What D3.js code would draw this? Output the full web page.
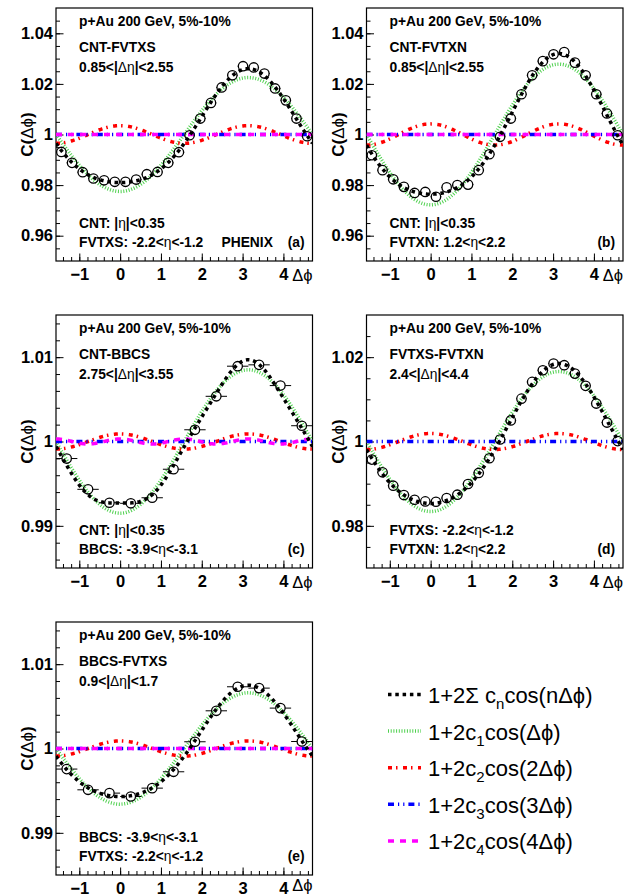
<!DOCTYPE html>
<html><head><meta charset="utf-8">
<script src="https://cdn.jsdelivr.net/npm/d3@7"></script>
<style>body{margin:0;background:#fff} svg{display:block}</style>
</head><body><svg id="chart" width="631" height="896"></svg>
<script>
// ---------------- data ----------------
const phiCenters24 = [-1.4399,-1.1781,-0.9163,-0.6545,-0.3927,-0.1309,0.1309,0.3927,0.6545,0.9163,1.1781,1.4399,
                      1.7017,1.9635,2.2253,2.4871,2.7489,3.0107,3.2725,3.5343,3.7961,4.0579,4.3197,4.5815];
const phiCenters12 = [-1.3090,-0.7854,-0.2618,0.2618,0.7854,1.3090,1.8326,2.3562,2.8798,3.4034,3.9270,4.4506];
const binWidth24 = 0.2618, binWidth12 = 0.5236;

const valuesA = [0.9931,0.9888,0.9851,0.9826,0.9819,0.9813,0.9813,0.9822,0.9843,0.9852,0.9888,0.9930,
                 0.9997,1.0063,1.0125,1.0186,1.0234,1.0270,1.0265,1.0241,1.0182,1.0135,1.0063,0.9993];
const valuesB = [0.9918,0.9859,0.9823,0.9793,0.9769,0.9773,0.9754,0.9791,0.9800,0.9802,0.9859,0.9922,
                 0.9991,1.0063,1.0159,1.0234,1.0290,1.0317,1.0326,1.0284,1.0234,1.0159,1.0083,0.9997];
const valuesC = [0.99798,0.99433,0.99274,0.99267,0.99333,0.99671,1.00139,1.00536,1.00893,1.00909,1.00663,1.00187];
const valuesD = [0.99571,0.99270,0.98952,0.98730,0.98619,0.98579,0.98571,0.98659,0.98738,0.98992,0.99254,0.99603,
                 1.00048,1.00500,1.01016,1.01413,1.01690,1.01850,1.01810,1.01610,1.01320,1.00900,1.00450,1.00010];
const valuesE = [0.99756,0.99510,0.99471,0.99431,0.99530,0.99724,1.00080,1.00447,1.00732,1.00716,1.00479,1.00083];

// Fourier coefficients c_n per panel (a..e)
const coefC1 = [-0.01125,-0.0139,-0.00425,-0.0083,-0.0033];
const coefC2 = [0.00175,0.0021,0.00045,0.00095,0.00045];
const coefC3 = [0,0,0,0,0];
const coefC4 = [0,0,0.00015,null,0];

const panelLetters = ["(a)","(b)","(c)","(d)","(e)"];
const headerText = "p+Au 200 GeV, 5%-10%";
const pairNames = ["CNT-FVTXS","CNT-FVTXN","CNT-BBCS","FVTXS-FVTXN","BBCS-FVTXS"];
const etaGaps = ["0.85<|Δη|<2.55","0.85<|Δη|<2.55","2.75<|Δη|<3.55","2.4<|Δη|<4.4","0.9<|Δη|<1.7"];
const detLine1 = ["CNT: |η|<0.35","CNT: |η|<0.35","CNT: |η|<0.35","FVTXS: -2.2<η<-1.2","BBCS: -3.9<η<-3.1"];
const detLine2 = ["FVTXS: -2.2<η<-1.2","FVTXN: 1.2<η<2.2","BBCS: -3.9<η<-3.1","FVTXN: 1.2<η<2.2","FVTXS: -2.2<η<-1.2"];

const yDomains = [[0.95,1.05],[0.95,1.05],[0.985,1.015],[0.97,1.03],[0.985,1.015]];
const yMajorTicks = [[0.96,0.98,1,1.02,1.04],[0.96,0.98,1,1.02,1.04],[0.99,1,1.01],[0.98,1,1.02],[0.99,1,1.01]];
const yMajorLabels = [["0.96","0.98","1","1.02","1.04"],["0.96","0.98","1","1.02","1.04"],
                      ["0.99","1","1.01"],["0.98","1","1.02"],["0.99","1","1.01"]];
const yMinorStep = [0.005,0.005,0.002,0.005,0.002];
const xTickValues = [-1,0,1,2,3,4];
const xTickLabels = ["\u22121","0","1","2","3","4"];
const yTitle = "C(Δϕ)", xTitle = "Δϕ";

const legendNames = [
  [["1+2Σ c",""],["n","sub"],["cos(nΔϕ)",""]],
  [["1+2c",""],["1","sub"],["cos(Δϕ)",""]],
  [["1+2c",""],["2","sub"],["cos(2Δϕ)",""]],
  [["1+2c",""],["3","sub"],["cos(3Δϕ)",""]],
  [["1+2c",""],["4","sub"],["cos(4Δϕ)",""]]
];

// ---------------- layout / style ----------------
const FONT = "'Liberation Sans', Arial, Helvetica, sans-serif";
const colX = [56, 366.5], rowY = [8, 315, 622], FW = 256.5, FH = 253;
const panelCol = [0,1,0,1,0], panelRow = [0,0,1,1,2];
const allValues = [valuesA,valuesB,valuesC,valuesD,valuesE];
const allPhi = [phiCenters24,phiCenters24,phiCenters12,phiCenters24,phiCenters12];
const allBW = [binWidth24,binWidth24,binWidth12,binWidth24,binWidth12];
const R = 4.7;

const styles = [
  {color:"#000000", width:3.5, dash:"3.5 3.8"},
  {color:"#4fd04f", width:3.5, dash:"1 1.7"},
  {color:"#ff0000", width:3.5, dash:"4 4 1.5 5.5"},
  {color:"#0000ff", width:3.5, dash:"6 4 1.2 4 1.2 4"},
  {color:"#ff00ff", width:3.5, dash:"6 6"}
];

const svg = d3.select("#chart");
svg.append("rect").attr("width",631).attr("height",896).attr("fill","#fff");

const GREEK = /[ΔηϕφΣ]/;
function richText(sel, str) {
  // Greek letters drawn in regular weight like ROOT's Symbol font
  const parts = str.match(/[ΔηϕφΣ]+|[^ΔηϕφΣ]+/g);
  parts.forEach(p => {
    const t = sel.append("tspan").text(p);
    if (GREEK.test(p)) t.attr("font-weight","normal");
  });
  return sel;
}

const PI = Math.PI;
const curveSamples = d3.range(0, 401).map(i => -PI/2 + i * (2*PI/400));

for (let p = 0; p < 5; p++) {
  const x0 = colX[panelCol[p]], y0 = rowY[panelRow[p]];
  const g = svg.append("g").attr("transform", `translate(${x0},${y0})`);
  const x = d3.scaleLinear().domain([-PI/2, 3*PI/2]).range([0, FW]);
  const y = d3.scaleLinear().domain(yDomains[p]).range([FH, 0]);

  const clipId = "clip" + p;
  g.append("clipPath").attr("id", clipId).append("rect").attr("width", FW).attr("height", FH);

  // axes ticks (inside)
  const yMinor = d3.range(Math.round(yDomains[p][0]/yMinorStep[p]), Math.round(yDomains[p][1]/yMinorStep[p]) + 1)
      .map(k => +(k*yMinorStep[p]).toFixed(6))
      .filter(v => v > yDomains[p][0] && v < yDomains[p][1]);
  g.append("g").call(d3.axisLeft(y).tickValues(yMinor).tickSize(-4).tickFormat(""))
    .call(s => s.select(".domain").remove());
  const ya = g.append("g").call(d3.axisLeft(y).tickValues(yMajorTicks[p]).tickSize(-7.5).tickPadding(3)
      .tickFormat((d,i) => yMajorLabels[p][i]))
    .call(s => s.select(".domain").remove());
  ya.selectAll("text").attr("font-family", FONT).attr("font-weight","bold").attr("font-size", 16.5).attr("fill","#000");

  const xMinor = d3.range(-7, 24).map(k => +(k*0.2).toFixed(2)).filter(v => v > -PI/2 && v < 3*PI/2);
  g.append("g").attr("transform", `translate(0,${FH})`)
    .call(d3.axisBottom(x).tickValues(xMinor).tickSize(-4).tickFormat(""))
    .call(s => s.select(".domain").remove());
  const xa = g.append("g").attr("transform", `translate(0,${FH})`)
    .call(d3.axisBottom(x).tickValues(xTickValues).tickSize(-7.5).tickPadding(7)
      .tickFormat((d,i) => xTickLabels[i]))
    .call(s => s.select(".domain").remove());
  xa.selectAll("text").attr("font-family", FONT).attr("font-weight","bold").attr("font-size", 16.5).attr("fill","#000");
  g.selectAll(".tick line").attr("stroke","#000").attr("stroke-width",1);

  // frame
  g.append("rect").attr("width", FW).attr("height", FH).attr("fill","none").attr("stroke","#000").attr("stroke-width",1.2);

  // curves
  const cs = [coefC1[p], coefC2[p], coefC3[p], coefC4[p]];
  const cg = g.append("g").attr("clip-path", `url(#${clipId})`);
  const sumF = phi => 1 + 2*cs.reduce((acc,c,n) => acc + (c||0)*Math.cos((n+1)*phi), 0);
  const fns = [sumF];
  cs.forEach((c,n) => fns.push(c === null ? null : (phi => 1 + 2*c*Math.cos((n+1)*phi))));
  const line = d3.line().x(d => x(d[0])).y(d => y(d[1]));

  // data markers with horizontal bin-width bars (gap inside the marker)
  const vals = allValues[p], phis = allPhi[p], bw = allBW[p];
  const pts = phis.map((ph,i) => ({phi: ph, v: vals[i]}));
  const mg = g.append("g");
  mg.selectAll("path.eb").data(pts).join("path").attr("class","eb")
    .attr("d", d => {
      const cx = x(d.phi), cy = y(d.v), l = x(d.phi - bw/2), r = x(d.phi + bw/2);
      let s = "";
      if (cx - R > l) s += `M${l},${cy}H${cx - R}`;
      if (r > cx + R) s += `M${cx + R},${cy}H${r}`;
      return s || "M0,0";
    })
    .attr("fill","none").attr("stroke","#000").attr("stroke-width",1);
  mg.selectAll("circle").data(pts).join("circle")
    .attr("cx", d => x(d.phi)).attr("cy", d => y(d.v)).attr("r", R)
    .attr("fill","none").attr("stroke","#000").attr("stroke-width",1.3);

  const order = [1,2,3,4,0];
  order.forEach(k => {
    if (!fns[k]) return;
    cg.append("path").datum(curveSamples.map(ph => [ph, fns[k](ph)]))
      .attr("d", line).attr("fill","none")
      .attr("stroke", styles[k].color).attr("stroke-width", styles[k].width)
      .attr("stroke-dasharray", styles[k].dash);
  });

  // texts
  const tx = 23;
  const addT = (str, xx, yy, anchor) => richText(g.append("text").attr("x", xx).attr("y", yy)
      .attr("font-family", FONT).attr("font-weight","bold").attr("font-size", 13.8)
      .attr("text-anchor", anchor || "start").attr("fill","#000"), str);
  addT(headerText, tx, 17.5);
  addT(pairNames[p], tx, 43.5);
  addT(etaGaps[p], tx, 63.5);
  addT(detLine1[p], tx, FH - 33);
  addT(detLine2[p], tx, FH - 14);
  addT(panelLetters[p], FW - 8, FH - 14, "end");
  if (p === 0) addT("PHENIX", 165.5, FH - 14);

  // axis titles
  richText(g.append("text").attr("transform", `translate(-23,${FH/2}) rotate(-90)`)
    .attr("text-anchor","middle").attr("font-family", FONT).attr("font-weight","bold")
    .attr("font-size", 17).attr("fill","#000"), yTitle);
  const xtY = Math.min(FH + 20, 896 - y0 - 5);
  g.append("text").attr("x", FW).attr("y", xtY).attr("text-anchor","end")
    .attr("font-family", FONT).attr("font-size", 16.5).attr("fill","#000").text(xTitle);
}

// legend
const legX = 388, legY0 = 694.5, legDY = 36.6;
const lg = svg.append("g");
legendNames.forEach((parts, i) => {
  const yy = legY0 + i*legDY;
  lg.append("line").attr("x1", legX).attr("x2", legX + 33).attr("y1", yy).attr("y2", yy)
    .attr("stroke", styles[i].color).attr("stroke-width", styles[i].width).attr("stroke-dasharray", styles[i].dash);
  const t = lg.append("text").attr("x", legX + 40).attr("y", yy + 8.5)
    .attr("font-family", FONT).attr("font-size", 22).attr("fill","#000");
  parts.forEach(([s, kind], j) => {
    const ts = t.append("tspan").text(s);
    if (kind === "sub") ts.attr("font-size", 15).attr("dy", 6);
    else if (j > 0 && parts[j-1][1] === "sub") ts.attr("dy", -6);
  });
});
</script></body></html>
